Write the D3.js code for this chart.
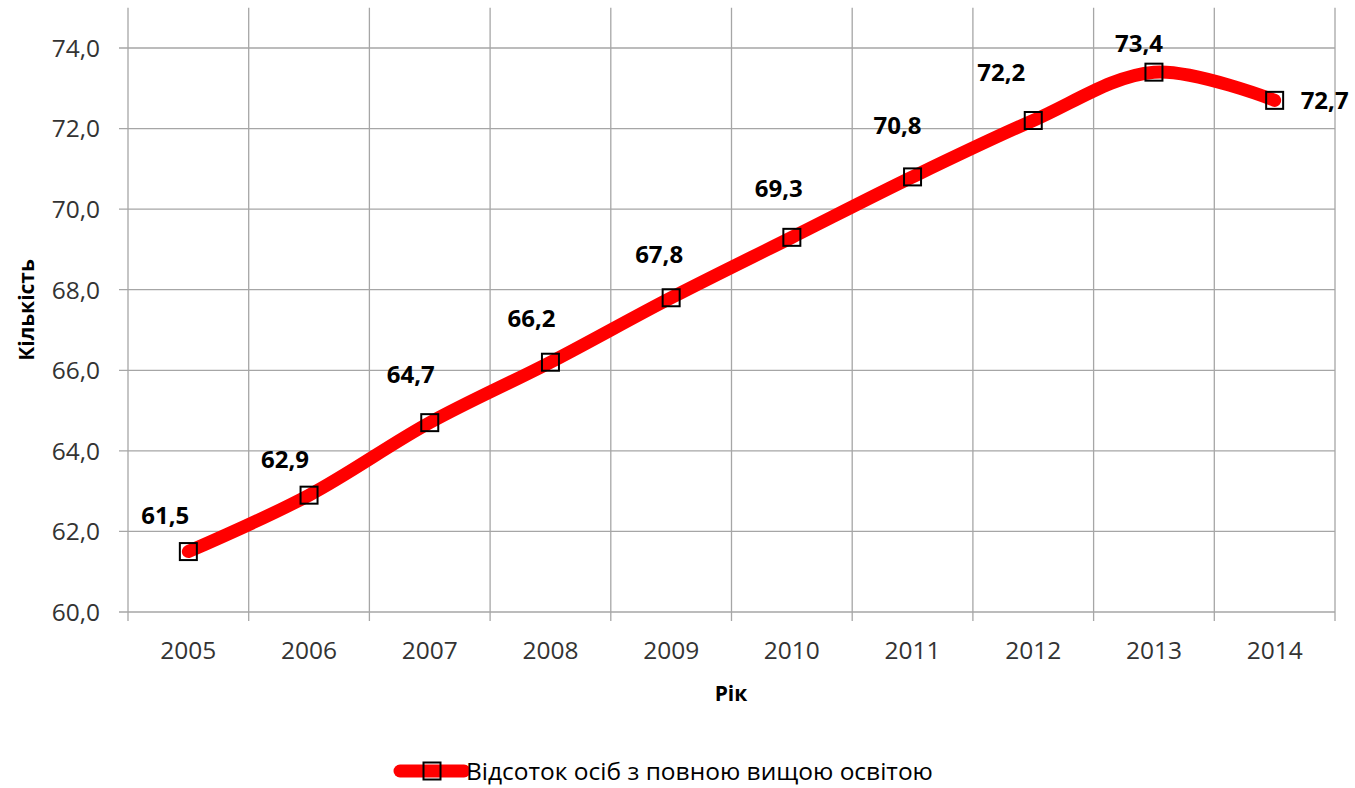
<!DOCTYPE html>
<html><head><meta charset="utf-8">
<script src="https://cdn.jsdelivr.net/npm/d3@7"></script>
<style>body{margin:0;background:#fff}svg{display:block}text{font-family:"Open Sans",sans-serif}</style>
</head><body>
<svg id="c" width="1355" height="788"></svg>
<script>
const years = ["2005","2006","2007","2008","2009","2010","2011","2012","2013","2014"];
const values = [61.5, 62.9, 64.7, 66.2, 67.8, 69.3, 70.8, 72.2, 73.4, 72.7];
const yTicks = [60, 62, 64, 66, 68, 70, 72, 74];
const seriesName = "Відсоток осіб з повною вищою освітою";
const yTitle = "Кількість";
const xTitle = "Рік";
// label offsets from each point (style, in px)
const labelDX = [-23, -24, -19, -19, -12, -13, -15, -32, -15, 50];
const labelDY = [-36, -36, -48, -44, -43, -49, -52, -48, -29, 0];

const svg = d3.select("#c");
const L = 128, R = 1335, T = 7.7, B = 612;
const x = d3.scaleBand().domain(years).range([L, R]);
const y = d3.scaleLinear().domain([60, 75]).range([B, T]);
const fmt = v => d3.format(".1f")(v).replace(".", ",");
const grid = "#a6a6a6";

svg.append("g").selectAll("line").data(yTicks).join("line")
  .attr("x1", L - 9).attr("x2", R).attr("y1", d => y(d)).attr("y2", d => y(d))
  .attr("stroke", grid).attr("stroke-width", 1.3);
const bounds = years.map(d => x(d)).concat([R]);
svg.append("g").selectAll("line").data(bounds).join("line")
  .attr("x1", d => d).attr("x2", d => d).attr("y1", T).attr("y2", B + 9)
  .attr("stroke", grid).attr("stroke-width", 1.3);

svg.append("g").selectAll("text").data(yTicks).join("text")
  .attr("x", 100).attr("y", d => y(d)).attr("dy", "0.36em")
  .attr("text-anchor", "end").attr("font-size", 24.5).attr("fill", "#333")
  .text(fmt);
svg.append("g").selectAll("text").data(years).join("text")
  .attr("x", d => x(d) + x.bandwidth() / 2).attr("y", 659)
  .attr("text-anchor", "middle").attr("font-size", 24.5).attr("fill", "#333")
  .text(d => d);

svg.append("text").attr("transform", `translate(34,310) rotate(-90)`)
  .attr("text-anchor", "middle").attr("font-size", 21).attr("font-weight", "bold")
  .text(yTitle);
svg.append("text").attr("x", 731).attr("y", 701)
  .attr("text-anchor", "middle").attr("font-size", 21).attr("font-weight", "bold")
  .text(xTitle);

const cx = (d, i) => x(years[i]) + x.bandwidth() / 2;
const line = d3.line().x(cx).y(d => y(d)).curve(d3.curveCatmullRom.alpha(0.5));
svg.append("path").datum(values).attr("d", line)
  .attr("fill", "none").attr("stroke", "#ff0000").attr("stroke-width", 13)
  .attr("stroke-linecap", "round").attr("stroke-linejoin", "round");

const ms = 17;
svg.append("g").selectAll("rect").data(values).join("rect")
  .attr("x", (d, i) => cx(d, i) - ms / 2).attr("y", d => y(d) - ms / 2)
  .attr("width", ms).attr("height", ms)
  .attr("fill", "none").attr("stroke", "#000").attr("stroke-width", 2);

svg.append("g").selectAll("text").data(values).join("text")
  .attr("x", (d, i) => cx(d, i) + labelDX[i]).attr("y", (d, i) => y(d) + labelDY[i])
  .attr("dy", "0.36em").attr("text-anchor", "middle")
  .attr("font-size", 24).attr("font-weight", "bold").attr("fill", "#000")
  .text(fmt);

const lg = svg.append("g");
lg.append("line").attr("x1", 400).attr("x2", 464).attr("y1", 771).attr("y2", 771)
  .attr("stroke", "#ff0000").attr("stroke-width", 13).attr("stroke-linecap", "round");
lg.append("rect").attr("x", 432 - ms / 2).attr("y", 771 - ms / 2).attr("width", ms).attr("height", ms)
  .attr("fill", "none").attr("stroke", "#000").attr("stroke-width", 2);
lg.append("text").attr("x", 466).attr("y", 771).attr("dy", "0.36em")
  .attr("font-size", 24.5).attr("fill", "#000").text(seriesName);
</script>
</body></html>
